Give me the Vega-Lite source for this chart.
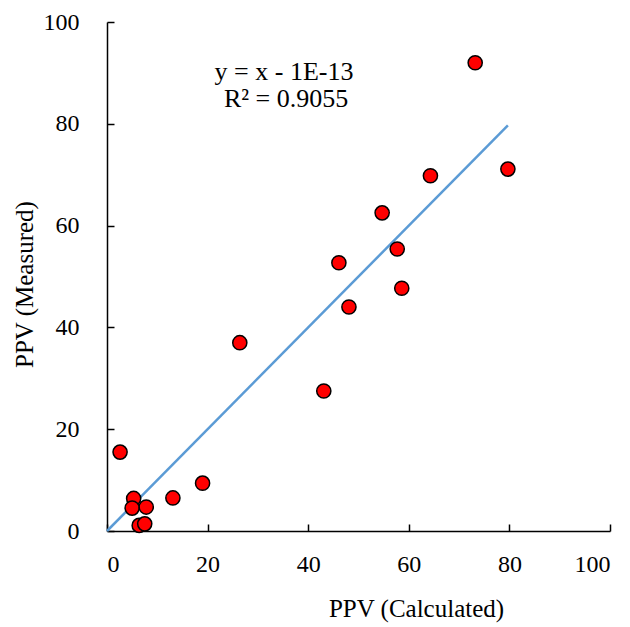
{
  "$schema": "https://vega.github.io/schema/vega-lite/v6.json",
  "autosize": "none",
  "padding": {"left": 107, "top": 22, "right": 20, "bottom": 96},
  "width": 503,
  "height": 509,
  "background": "white",
  "config": {
    "view": {"stroke": null},
    "font": "Liberation Serif",
    "axis": {
      "grid": false,
      "domainColor": "#000000",
      "domainWidth": 1.5,
      "tickColor": "#000000",
      "tickWidth": 1.5,
      "tickSize": -7,
      "labelFont": "Liberation Serif",
      "labelFontSize": 24,
      "labelColor": "#000000",
      "titleFont": "Liberation Serif",
      "titleFontSize": 25,
      "titleFontWeight": "normal",
      "titleColor": "#000000"
    }
  },
  "datasets": {
    "points": [
      {"calc": 2.6, "meas": 15.5},
      {"calc": 5.3, "meas": 6.4},
      {"calc": 5.0, "meas": 4.5},
      {"calc": 6.4, "meas": 1.1},
      {"calc": 7.5, "meas": 1.4},
      {"calc": 7.8, "meas": 4.7},
      {"calc": 13.1, "meas": 6.5},
      {"calc": 19.0, "meas": 9.4},
      {"calc": 26.4, "meas": 37.0},
      {"calc": 43.1, "meas": 27.5},
      {"calc": 46.1, "meas": 52.7},
      {"calc": 48.1, "meas": 44.0},
      {"calc": 54.7, "meas": 62.5},
      {"calc": 57.7, "meas": 55.4},
      {"calc": 58.6, "meas": 47.7},
      {"calc": 64.3, "meas": 69.8},
      {"calc": 73.2, "meas": 92.0},
      {"calc": 79.7, "meas": 71.1}
    ],
    "trend": [
      {"calc": 0, "meas": 0},
      {"calc": 79.7, "meas": 79.7}
    ],
    "notes": [
      {"calc": 35.2, "meas": 88.7, "label": "y = x - 1E-13"},
      {"calc": 35.6, "meas": 83.3, "label": "R² = 0.9055"}
    ]
  },
  "layer": [
    {
      "data": {"name": "trend"},
      "mark": {"type": "line", "color": "#5B9BD5", "strokeWidth": 2.5},
      "encoding": {
        "x": {
          "field": "calc", "type": "quantitative",
          "scale": {"domain": [0, 100], "nice": false},
          "axis": {"values": [0, 20, 40, 60, 80, 100], "title": "PPV (Calculated)", "labelPadding": 28, "titleX": 309, "titleY": 85, "titleBaseline": "alphabetic"}
        },
        "y": {
          "field": "meas", "type": "quantitative",
          "scale": {"domain": [0, 100], "nice": false},
          "axis": {"values": [0, 20, 40, 60, 80, 100], "title": "PPV (Measured)", "labelPadding": 35, "titleX": -75, "titleY": 262, "titleBaseline": "alphabetic"}
        }
      }
    },
    {
      "data": {"name": "points"},
      "mark": {"type": "point", "filled": true, "shape": "circle", "size": 200, "fill": "#FF0000", "stroke": "#000000", "strokeWidth": 1.5, "opacity": 1},
      "encoding": {
        "x": {"field": "calc", "type": "quantitative"},
        "y": {"field": "meas", "type": "quantitative"}
      }
    },
    {
      "data": {"name": "notes"},
      "mark": {"type": "text", "font": "Liberation Serif", "fontSize": 26, "color": "#000000", "align": "center", "baseline": "alphabetic"},
      "encoding": {
        "x": {"field": "calc", "type": "quantitative"},
        "y": {"field": "meas", "type": "quantitative"},
        "text": {"field": "label"}
      }
    }
  ]
}
